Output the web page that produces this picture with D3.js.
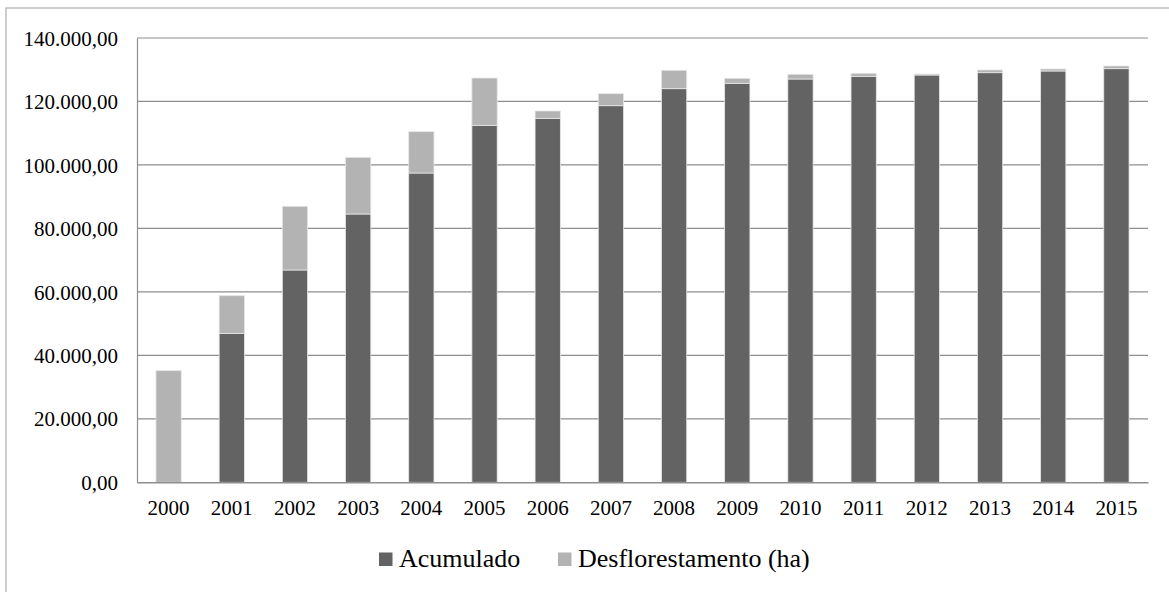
<!DOCTYPE html>
<html>
<head>
<meta charset="utf-8">
<script src="https://cdn.jsdelivr.net/npm/d3@7"></script>
<style>
  html, body { margin: 0; padding: 0; background: #ffffff; }
  svg { display: block; }
</style>
</head>
<body>
<svg id="chart" width="1169" height="592"></svg>
<script>
const years = ["2000","2001","2002","2003","2004","2005","2006","2007","2008","2009","2010","2011","2012","2013","2014","2015"];
const acumulado = [0, 46950, 66900, 84540, 97460, 112490, 114690, 118670, 124030, 125730, 127080, 127930, 128340, 129070, 129600, 130330];
const desflorestamento = [35170, 11850, 20070, 17860, 13010, 14900, 2310, 3780, 5790, 1570, 1480, 940, 320, 850, 630, 850];
const yTicks = [0, 20000, 40000, 60000, 80000, 100000, 120000, 140000];
const seriesNames = ["Acumulado", "Desflorestamento (ha)"];
const seriesColors = ["#636363", "#b3b3b3"];

const svg = d3.select("#chart");
const W = 1169, H = 592;
const plot = { left: 137, right: 1148, top: 38, bottom: 482.3 };

// outer frame (only top/left visible in the reference)
svg.append("rect")
  .attr("x", 6).attr("y", 8)
  .attr("width", W + 20).attr("height", H + 20)
  .attr("fill", "#ffffff")
  .attr("stroke", "#bdbdbd").attr("stroke-width", 1.5);

const x = d3.scaleBand().domain(years).range([plot.left, plot.right])
  .paddingInner(0.6).paddingOuter(0.3);
const y = d3.scaleLinear().domain([0, 140000]).range([plot.bottom, plot.top]);

const fmt = v => {
  const s = d3.format(",.2f")(v);
  return s.replace(/,/g, "#").replace(/\./g, ",").replace(/#/g, ".");
};

// gridlines
svg.append("g").selectAll("line").data(yTicks.filter(t => t > 0)).join("line")
  .attr("x1", plot.left).attr("x2", plot.right)
  .attr("y1", d => y(d)).attr("y2", d => y(d))
  .attr("stroke", "#8e8e8e").attr("stroke-width", 1.2);

// y axis labels
const yAxis = d3.axisLeft(y).tickValues(yTicks).tickFormat(fmt).tickSize(0).tickPadding(19);
const gy = svg.append("g").attr("transform", `translate(${plot.left},0)`).call(yAxis);
gy.select(".domain").attr("stroke", "#8e8e8e").attr("stroke-width", 1.2);
gy.selectAll("text")
  .attr("font-family", "'Liberation Serif', 'Times New Roman', serif")
  .attr("font-size", 21).attr("fill", "#000").attr("dy", "0.34em");

// stacked bars
const stackData = years.map((yr, i) => ({ year: yr, a: acumulado[i], d: desflorestamento[i] }));
const stack = d3.stack().keys(["a", "d"])(stackData);
svg.append("g").selectAll("g").data(stack).join("g")
  .attr("fill", (s, i) => seriesColors[i])
  .selectAll("rect").data(s => s).join("rect")
  .attr("x", d => x(d.data.year))
  .attr("width", x.bandwidth())
  .attr("y", d => y(d[1]))
  .attr("height", d => Math.max(0, y(d[0]) - y(d[1])))
  .attr("stroke", "#e6e6e6").attr("stroke-width", 0.8);

// x axis
const xAxis = d3.axisBottom(x).tickSize(0).tickPadding(18);
const gx = svg.append("g").attr("transform", `translate(0,${plot.bottom})`).call(xAxis);
gx.select(".domain").attr("stroke", "#8e8e8e").attr("stroke-width", 1.5);
gx.selectAll("text")
  .attr("font-family", "'Liberation Serif', 'Times New Roman', serif")
  .attr("font-size", 21).attr("fill", "#000");

// legend
const legendX = [379, 558];
const lg = svg.append("g");
seriesNames.forEach((name, i) => {
  lg.append("rect").attr("x", legendX[i]).attr("y", 552.5)
    .attr("width", 13.5).attr("height", 13.5).attr("fill", seriesColors[i]);
  lg.append("text").attr("x", legendX[i] + 20).attr("y", 566.5)
    .attr("font-family", "'Liberation Serif', 'Times New Roman', serif")
    .attr("font-size", 26).attr("fill", "#000").text(name);
});
</script>
</body>
</html>
